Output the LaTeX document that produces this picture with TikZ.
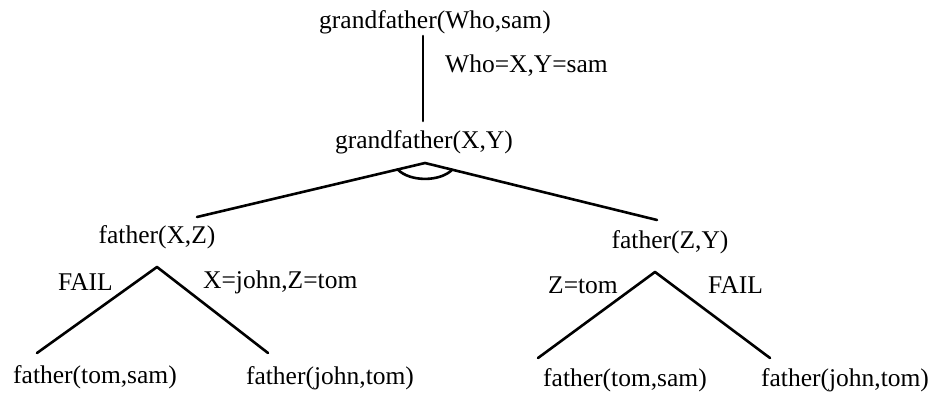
\documentclass[tikz,border=0pt]{standalone}
\usepackage{fontspec}
\setmainfont{Liberation Serif}
\begin{document}
\begin{tikzpicture}[x=1pt,y=-1pt,
  lbl/.style={font=\fontsize{25.5}{30}\selectfont, inner sep=0pt},
  edge/.style={line width=2.6pt, line cap=round, line join=round}]
\useasboundingbox (0,0) rectangle (928,398);
% nodes
\node[lbl] (g0) at (435,22) {grandfather(Who,sam)};
\node[lbl] (g1) at (424,142) {grandfather(X,Y)};
\node[lbl] (f1) at (157,237) {father(X,Z)};
\node[lbl] (f2) at (670,242) {father(Z,Y)};
\node[lbl] (l1) at (95,377) {father(tom,sam)};
\node[lbl] (l2) at (330,378) {father(john,tom)};
\node[lbl] (l3) at (625,380) {father(tom,sam)};
\node[lbl] (l4) at (845,380) {father(john,tom)};
% edge labels
\node[lbl, anchor=west] (e0) at (445,66) {Who=X,Y=sam};
\node[lbl, anchor=east] (e1) at (113,282) {FAIL};
\node[lbl, anchor=west] (e2) at (203,282) {X=john,Z=tom};
\node[lbl, anchor=east] (e3) at (618,285) {Z=tom};
\node[lbl, anchor=west] (e4) at (708,285) {FAIL};
% coordinates
\coordinate (v0) at (423,36);
\coordinate (v1) at (423,121);
\coordinate (ap) at (425,163);
\coordinate (al) at (197,217);
\coordinate (ar) at (657,220);
\coordinate (p1) at (397.7,169.5);
\coordinate (p2) at (452.2,169.7);
\coordinate (s1) at (157,267);
\coordinate (s1l) at (37,353);
\coordinate (s1r) at (268,353);
\coordinate (s2) at (655,272);
\coordinate (s2l) at (538,358);
\coordinate (s2r) at (770,358);
% connectors
\draw[edge] (v0) -- (v1);
\draw[edge] (al) -- (ap) -- (ar);
\draw[edge] (p1) .. controls (410,182) and (440,182) .. (p2);
\draw[edge] (s1l) -- (s1) -- (s1r);
\draw[edge] (s2l) -- (s2) -- (s2r);
\end{tikzpicture}
\end{document}
